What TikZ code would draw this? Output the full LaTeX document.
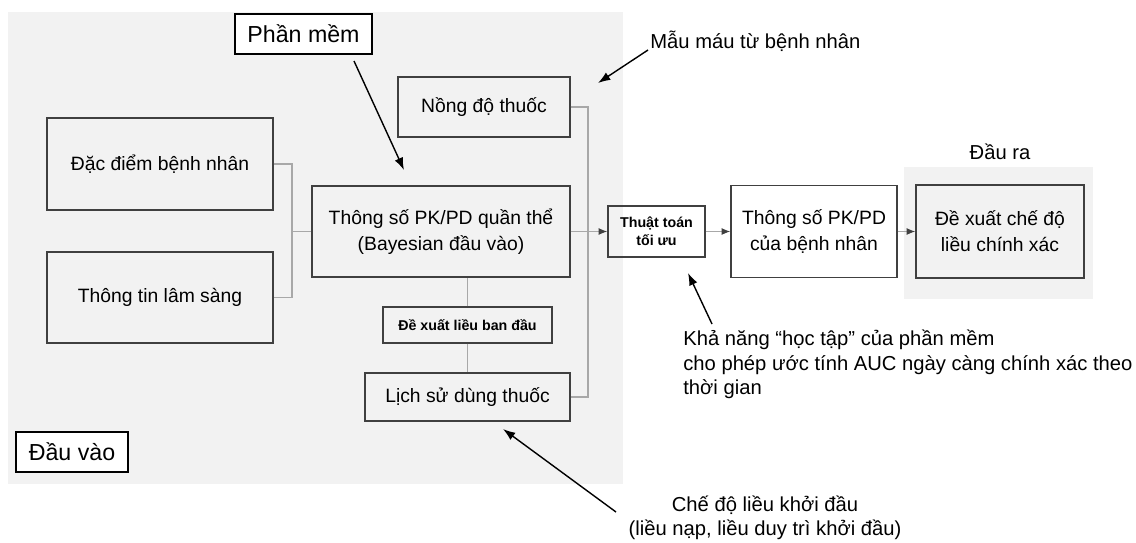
\documentclass[tikz,border=0pt]{standalone}
\usepackage{fontspec}
\setmainfont{Liberation Sans}
\usetikzlibrary{arrows.meta}
\definecolor{panelgray}{HTML}{F2F2F2}
\definecolor{boxline}{HTML}{404040}
\definecolor{linkgray}{HTML}{A8A8A8}
\tikzset{
  block/.style={draw=boxline, line width=0.8pt, inner sep=0pt, align=center,
    font=\fontsize{11}{14.7}\selectfont},
  smallblock/.style={block, font=\fontsize{8.1}{10.4}\selectfont\bfseries},
  tagbox/.style={draw=black, fill=white, line width=0.8pt, inner sep=0pt,
    font=\fontsize{13.2}{16}\selectfont},
  note/.style={inner sep=0pt, font=\fontsize{11.5}{13.8}\selectfont},
  link/.style={draw=linkgray, line width=0.6pt},
  linkarrow/.style={link, -{Latex[length=5pt,width=4pt,color=boxline]}},
  pointer/.style={draw=black, line width=0.8pt, -{Latex[length=7pt,width=5pt]}}
}
\begin{document}
\begin{tikzpicture}[x=0.02cm, y=-0.02cm]
  \useasboundingbox (0,0) rectangle (1136,542);
  % panels
  \fill[panelgray] (8,12) rectangle (623,484);
  \fill[panelgray] (904,167) rectangle (1093,299);

  % input side
  \node[block, minimum width=226*0.02cm, minimum height=92*0.02cm] (dacdiem) at (160,164) {Đặc điểm bệnh nhân};
  \node[block, minimum width=226*0.02cm, minimum height=91*0.02cm] (thongtin) at (160,297.5) {Thông tin lâm sàng};
  \node[block, minimum width=258*0.02cm, minimum height=91*0.02cm] (pkpd) at (441,231.5) {Thông số PK/PD quần thể\\(Bayesian đầu vào)};
  \node[block, minimum width=172*0.02cm, minimum height=60*0.02cm] (nongdo) at (484,107) {Nồng độ thuốc};
  \node[smallblock, minimum width=169*0.02cm, minimum height=36*0.02cm] (dexuat) at (467.5,325) {Đề xuất liều ban đầu};
  \node[block, minimum width=205*0.02cm, minimum height=48*0.02cm] (lichsu) at (467.5,397) {Lịch sử dùng thuốc};
  \node[tagbox, minimum width=137*0.02cm, minimum height=40*0.02cm] (phanmem) at (303.5,34) {Phần mềm};
  \node[tagbox, minimum width=112*0.02cm, minimum height=40*0.02cm] (dauvao) at (72,452) {Đầu vào};

  % algorithm and output
  \node[smallblock, minimum width=97*0.02cm, minimum height=51*0.02cm] (thuattoan) at (656.5,231.5) {Thuật toán\\tối ưu};
  \node[block, minimum width=166*0.02cm, minimum height=92*0.02cm] (pkbn) at (814,231.5) {Thông số PK/PD\\của bệnh nhân};
  \node[block, minimum width=168*0.02cm, minimum height=93*0.02cm] (ketqua) at (1000,231.5) {Đề xuất chế độ\\liều chính xác};
  \node[note] (daura) at (1000,152) {Đầu ra};

  % connectors
  \draw[link] (dacdiem.east) -| (292,231.5) |- (thongtin.east);
  \draw[link] (292,231.5) -- (pkpd.west);
  \draw[link] (nongdo.east) -| (588,231.5) |- (lichsu.east);
  \draw[link] (dexuat.north) -- (dexuat.north |- pkpd.south);
  \draw[link] (dexuat.south) -- (lichsu.north);
  \draw[linkarrow] (pkpd.east) -- (thuattoan.west);
  \draw[linkarrow] (thuattoan.east) -- (pkbn.west);
  \draw[linkarrow] (pkbn.east) -- (ketqua.west);

  % annotations
  \node[note, anchor=west] (mau) at (650,41) {Mẫu máu từ bệnh nhân};
  \node[note, anchor=north west, align=left] (hoctap) at (683,330) {Khả năng “học tập” của phần mềm\\cho phép ước tính AUC ngày càng chính xác theo\\thời gian};
  \node[note, align=center] (khoidau) at (765,517.5) {Chế độ liều khởi đầu\\(liều nạp, liều duy trì khởi đầu)};
  \coordinate (phanmemtip) at (404,170);
  \coordinate (mautip) at (598,83);
  \coordinate (hoctaptip) at (688,273);
  \coordinate (khoidautip) at (503,429);
  \draw[pointer] (354,61) -- (phanmemtip);
  \draw[pointer] (648,50) -- (mautip);
  \draw[pointer] (712,324) -- (hoctaptip);
  \draw[pointer] (616,512) -- (khoidautip);
\end{tikzpicture}
\end{document}
